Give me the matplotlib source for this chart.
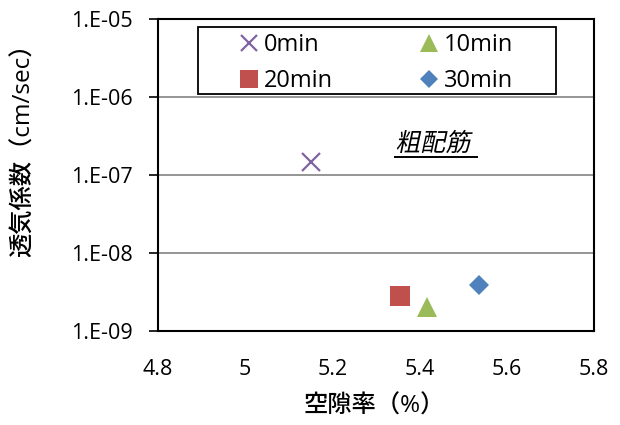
import math
import matplotlib
matplotlib.use("Agg")
import matplotlib.pyplot as plt
from matplotlib.ticker import FixedLocator, FuncFormatter
from matplotlib.textpath import TextPath
from matplotlib.patches import PathPatch, Rectangle
from matplotlib.font_manager import FontProperties
from matplotlib.transforms import Affine2D

plt.rcParams['font.family'] = ['Open Sans', 'Noto Sans CJK JP', 'DejaVu Sans']

# porosity (%) vs air permeability (cm/sec), one point per mixing time
labels = ['0min', '10min', '20min', '30min']
porosity = [5.15, 5.418, 5.355, 5.536]
permeability = [1.45e-7, 2.05e-9, 2.85e-9, 3.9e-9]
markers = ['x', '^', 's', 'D']
colors = ['#8064A2', '#9BBB59', '#C0504D', '#4F81BD']
sizes = [13, 14.5, 14.5, 10.3]

y_ticks = [1e-9, 1e-8, 1e-7, 1e-6, 1e-5]
x_ticks = [4.8, 5.0, 5.2, 5.4, 5.6, 5.8]
note = '粗配筋'

fig = plt.figure(figsize=(6.2, 4.25), dpi=100)
ax = fig.add_axes([158 / 620, 94 / 425, 436 / 620, 312 / 425])

handles = {}
for lab, x, y, m, c, s in zip(labels, porosity, permeability, markers, colors, sizes):
    mew = 1.6 if m == 'x' else 0
    h, = ax.plot([x], [y], linestyle='none', marker=m, color=c,
                 markersize=s, markeredgewidth=mew)
    handles[lab] = h

ax.set_yscale('log')
ax.set_ylim(1e-9, 1e-5)
ax.set_xlim(4.8, 5.8)
ax.yaxis.set_major_locator(FixedLocator(y_ticks))
ax.yaxis.set_minor_locator(FixedLocator([]))
ax.yaxis.set_major_formatter(FuncFormatter(lambda v, p: '1.E-%02d' % round(-math.log10(v))))
ax.xaxis.set_major_locator(FixedLocator(x_ticks))
ax.xaxis.set_major_formatter(FuncFormatter(lambda v, p: '%g' % round(v, 1)))

ax.grid(axis='y', color='#8c8c8c', linewidth=1.3)
ax.set_axisbelow(True)
for sp in ax.spines.values():
    sp.set_linewidth(1.5)
    sp.set_color('black')

ax.tick_params(axis='y', direction='out', length=6.5, width=1.2, labelsize=15.5, pad=12)
ax.tick_params(axis='x', length=0, labelsize=15.5, pad=20)

ax.set_xlabel('空隙率（%）', fontsize=17.5, fontweight='medium')
ax.set_ylabel('透気係数（cm/sec）', fontsize=17.5, fontweight='medium')
ax.xaxis.set_label_coords(0.497, -0.205)
ax.yaxis.set_label_coords(-0.28, 0.6)

# legend filled column-wise, so order gives 0/10 on top row and 20/30 below
order = ['0min', '20min', '10min', '30min']
leg = ax.legend([handles[k] for k in order], order, ncol=2, loc='upper left',
                bbox_to_anchor=(240 / 620, 1 - 33 / 425),
                bbox_transform=fig.transFigure, frameon=False,
                fontsize=17, handletextpad=0.23, handlelength=0.8,
                columnspacing=3.67, borderpad=0, borderaxespad=0,
                labelspacing=0.5, markerscale=0.88)
ax.add_patch(Rectangle((40 / 436, 237 / 312), 358 / 436, 67 / 312,
                       transform=ax.transAxes, fill=False, edgecolor='black',
                       linewidth=1.3, zorder=4))

# slanted, underlined annotation
fp = FontProperties(family='Noto Sans CJK JP')
tp = TextPath((0, 0), note, size=25, prop=fp)
x0, y0 = ax.transData.transform((5.344, 2.03e-7))
ax.add_patch(PathPatch(tp, transform=Affine2D().skew_deg(12, 0).translate(x0, y0),
                       facecolor='black', edgecolor='none', clip_on=False))
ax.plot([5.343, 5.532], [1.7e-7, 1.7e-7], color='black', linewidth=1.4)

fig.savefig('out.png', dpi=100)
